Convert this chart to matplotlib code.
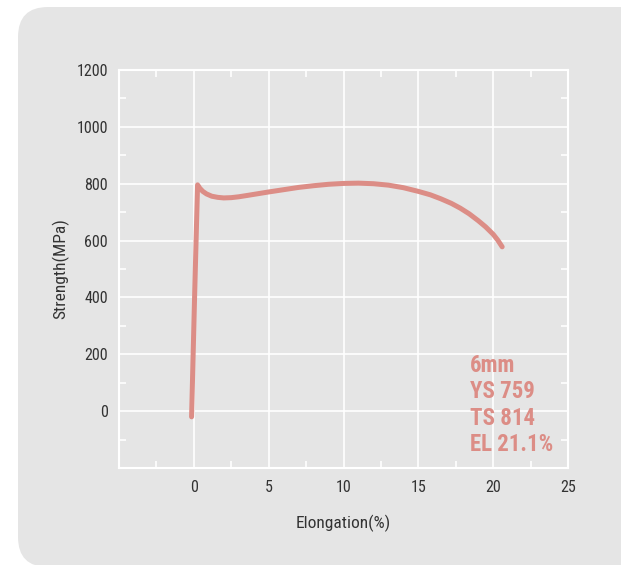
import matplotlib
matplotlib.use("Agg")
import matplotlib.pyplot as plt
from matplotlib.patches import FancyBboxPatch
from matplotlib.ticker import MultipleLocator, FixedLocator

plt.rcParams['font.family'] = ['Roboto Condensed', 'Archivo Narrow', 'Barlow Semi Condensed', 'DejaVu Sans']

# tensile curve, 6mm plate
elongation = [-0.15, 0.05, 0.25, 0.4, 0.6, 0.85, 1.2, 1.6, 2.0, 2.5, 3.0, 3.6,
              4.3, 5.0, 6.0, 7.0, 8.0, 9.0, 10.0, 11.0, 12.0, 13.0, 14.0,
              15.0, 15.8, 16.5, 17.2, 17.8, 18.4, 19.0, 19.5, 20.0, 20.3, 20.6]
strength = [-20, 400, 796, 784, 773, 764, 756, 752, 750, 751, 754, 759,
            765, 771, 779, 787, 793, 798, 801, 802, 800, 795, 786,
            773, 761, 747, 731, 714, 694, 670, 648, 622, 602, 578]

x_ticks = [0, 5, 10, 15, 20, 25]
y_ticks = [0, 200, 400, 600, 800, 1000, 1200]
info_lines = ["6mm", "YS 759", "TS 814", "EL 21.1%"]

line_color = "#dc8d86"
panel_color = "#e5e5e5"

fig = plt.figure(figsize=(6.21, 5.65), dpi=100)
fig.patch.set_facecolor("white")

# rounded grey panel behind the plot
panel = FancyBboxPatch((0.18, -0.02), 6.6, 5.60,
                       boxstyle="round,pad=0,rounding_size=0.3",
                       transform=fig.dpi_scale_trans,
                       facecolor=panel_color, edgecolor="none", zorder=-5)
fig.patches.append(panel)

ax = fig.add_axes([0.1916, 0.1717, 0.7231, 0.7044])
ax.set_zorder(1)
ax.set_facecolor(panel_color)
ax.plot(elongation, strength, color=line_color, lw=3.6,
        solid_capstyle="round", solid_joinstyle="round", zorder=3)

ax.set_xlim(-5, 25)
ax.set_ylim(-200, 1200)
ax.xaxis.set_major_locator(FixedLocator(x_ticks))
ax.yaxis.set_major_locator(FixedLocator(y_ticks))
ax.xaxis.set_minor_locator(MultipleLocator(2.5))
ax.yaxis.set_minor_locator(MultipleLocator(100))
ax.grid(True, which="major", color="white", lw=1.2, zorder=1)
ax.set_axisbelow(True)

for s in ax.spines.values():
    s.set_color("white")
    s.set_linewidth(1.5)

ax.tick_params(which="major", length=0, pad=9, labelsize=11.5, labelcolor="#333333")
ax.tick_params(axis="y", which="major", pad=8)
ax.tick_params(which="minor", direction="in", length=5, width=1.2, color="white",
               top=True, right=True, bottom=True, left=True)

ax.set_xlabel("Elongation(%)", fontsize=12.5, color="#333333", labelpad=14)
ax.set_ylabel("Strength(MPa)", fontsize=12.5, color="#333333", labelpad=5)

for i, line in enumerate(info_lines):
    ax.text(18.45, 161 - i * 93, line, color=line_color, fontsize=16.5,
            fontweight="bold", va="center", ha="left", zorder=4)

fig.savefig("out.png", dpi=100, facecolor=fig.get_facecolor())
